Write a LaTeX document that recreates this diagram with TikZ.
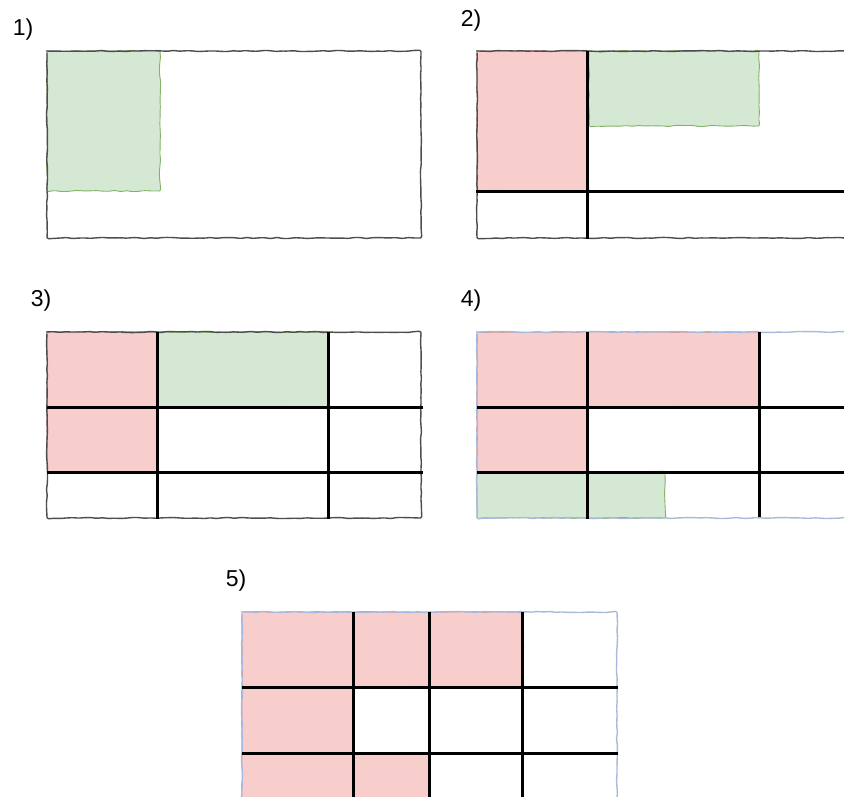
\documentclass[tikz,border=0pt]{standalone}
\usepackage{fontspec}
\setmainfont{Liberation Sans}
\usetikzlibrary{decorations.pathmorphing}
\definecolor{gfill}{HTML}{D5E8D4}
\definecolor{gline}{HTML}{82B366}
\definecolor{rfill}{HTML}{F8CECC}
\definecolor{rline}{HTML}{D49A97}
\definecolor{grayline}{HTML}{4D4D4D}
\definecolor{blueline}{HTML}{A9B9DD}
\tikzset{
  sketch/.style={decorate, decoration={random steps, segment length=6pt, amplitude=0.6pt}, rounded corners=1.5pt},
  greencell/.style={sketch, fill=gfill, draw=gline, line width=0.9pt},
  redcell/.style={sketch, fill=rfill, draw=rline, line width=0.9pt},
  grayframe/.style={sketch, draw=grayline, line width=1.4pt},
  blueframe/.style={sketch, draw=blueline, line width=1.4pt},
  gridline/.style={draw=black, line width=3pt},
  panellabel/.style={font=\fontsize{23}{26}\selectfont, inner sep=0pt}
}
\pgfmathsetseed{7}
\begin{document}
\begin{tikzpicture}[x=1pt, y=-1pt]
\useasboundingbox (0,0) rectangle (844,796);
\clip (0,0) rectangle (844,796);
\fill[white] (0,0) rectangle (844,796);

% labels
\node[panellabel] (l1) at (23,30) {1)};
\node[panellabel] (l2) at (471,21) {2)};
\node[panellabel] (l3) at (41,301) {3)};
\node[panellabel] (l4) at (471,301) {4)};
\node[panellabel] (l5) at (236,581) {5)};

% panel 1
\path[greencell] (47,51) rectangle (160,191);
\path[grayframe] (47,51) rectangle (421,238);

% panel 2
\path[redcell] (477,51) rectangle (588,191);
\path[greencell] (589,51) rectangle (759,126);
\path[grayframe] (477,51) rectangle (870,238);
\draw[gridline] (476,191) -- (850,191);
\draw[gridline] (587,51) -- (587,239);

% panel 3
\path[redcell] (47,332) rectangle (158,472);
\path[greencell] (157,332) rectangle (328,407);
\path[grayframe] (47,332) rectangle (421,518);
\draw[gridline] (47,407) -- (423,407);
\draw[gridline] (47,472) -- (423,472);
\draw[gridline] (157,332) -- (157,519);
\draw[gridline] (328,332) -- (328,519);

% panel 4
\path[redcell] (477,332) rectangle (588,472);
\path[redcell] (587,332) rectangle (759,407);
\path[greencell] (477,472) rectangle (665,518);
\path[blueframe] (477,332) rectangle (870,518);
\draw[gridline] (477,407) -- (850,407);
\draw[gridline] (477,472) -- (850,472);
\draw[gridline] (587,332) -- (587,519);
\draw[gridline] (759,332) -- (759,517);

% panel 5
\path[redcell] (242,612) rectangle (523,687);
\path[redcell] (242,687) rectangle (354,753);
\path[redcell] (242,753) rectangle (430,820);
\path[blueframe] (242,612) rectangle (617,830);
\draw[gridline] (242,687) -- (618,687);
\draw[gridline] (242,753) -- (618,753);
\draw[gridline] (353,612) -- (353,800);
\draw[gridline] (429.5,612) -- (429.5,800);
\draw[gridline] (522.7,612) -- (522.7,800);
\end{tikzpicture}
\end{document}
